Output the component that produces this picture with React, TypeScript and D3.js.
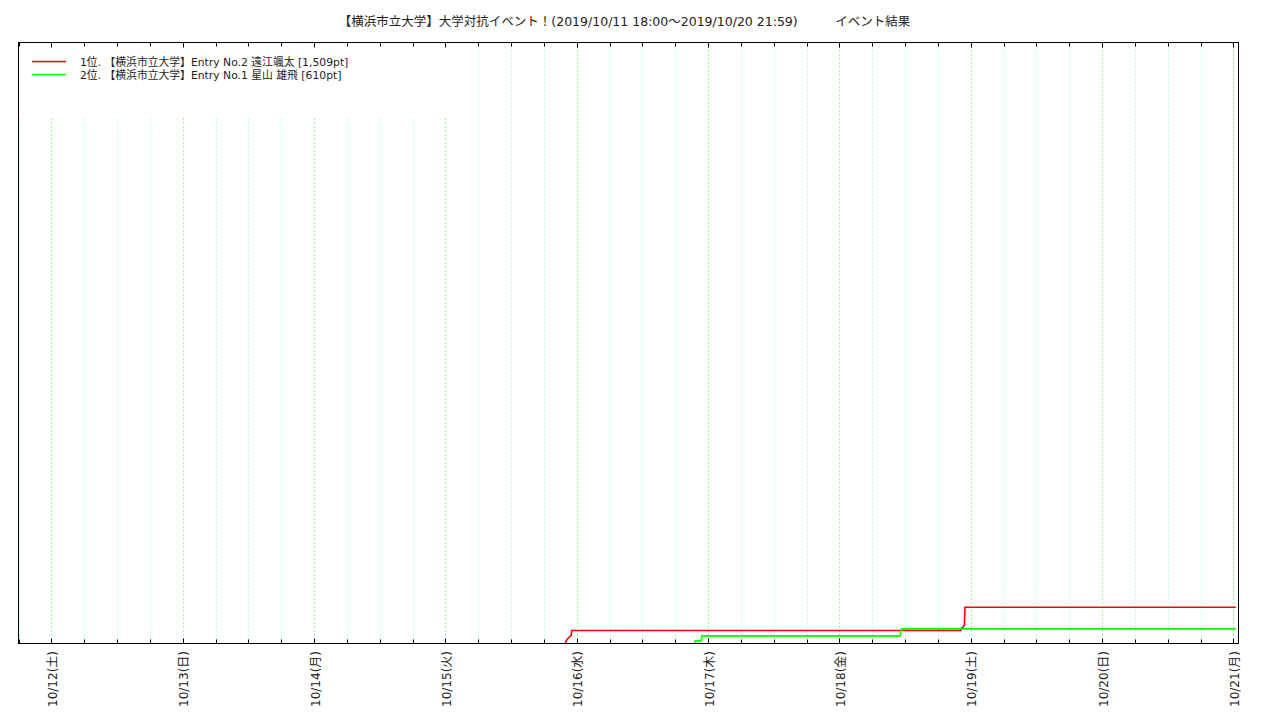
import React from "react";
import * as d3 from "d3";

const TITLE = "【横浜市立大学】大学対抗イベント！(2019/10/11 18:00～2019/10/20 21:59)　　　イベント結果";

const seriesNames = [
  "1位. 【横浜市立大学】Entry No.2 遠江颯太 [1,509pt]",
  "2位. 【横浜市立大学】Entry No.1 星山 雄飛 [610pt]",
];
const seriesColors = ["#ff0000", "#00ff00"];

const redTimes = [
  "2019-10-15 21:52", "2019-10-15 22:15", "2019-10-15 22:37", "2019-10-15 23:00", "2019-10-15 23:04",
  "2019-10-18 22:12", "2019-10-18 22:15", "2019-10-18 22:35", "2019-10-18 22:50", "2019-10-18 22:56",
  "2019-10-21 00:25",
];
const redValues = [0, 180, 260, 345, 540, 540, 624, 680, 760, 1509, 1509];

const greenTimes = [
  "2019-10-16 21:30", "2019-10-16 21:42", "2019-10-16 22:46", "2019-10-16 22:50",
  "2019-10-18 11:06", "2019-10-18 11:14", "2019-10-18 11:24", "2019-10-21 00:25",
];
const greenValues = [0, 108, 108, 316, 316, 500, 610, 610];

const dayTickLabels = [
  "10/12(土)", "10/13(日)", "10/14(月)", "10/15(火)", "10/16(水)",
  "10/17(木)", "10/18(金)", "10/19(土)", "10/20(日)", "10/21(月)",
];

const X_START = "2019-10-11 18:00";
const X_END = "2019-10-21 00:55";
const Y_MAX = 25000;

const parse = d3.timeParse("%Y-%m-%d %H:%M");

export default function App() {
  const W = 1280, H = 720;
  const left = 18.5, right = 1238.5, top = 42.5, bottom = 643.5;
  const x = d3.scaleTime().domain([parse(X_START)!, parse(X_END)!]).range([left, right]);
  const y = d3.scaleLinear().domain([0, Y_MAX]).range([bottom, top]);

  const dayTicks = d3.timeDay.range(d3.timeDay.ceil(parse(X_START)!), parse(X_END)!);
  const sixTicks = d3.timeHour.every(6)!.range(parse(X_START)!, parse(X_END)!).filter((d) => d.getHours() !== 0);

  const line = d3.line<[Date, number]>().x((d) => x(d[0])).y((d) => y(d[1]));
  const series = [
    redTimes.map((t, i) => [parse(t)!, redValues[i]] as [Date, number]),
    greenTimes.map((t, i) => [parse(t)!, greenValues[i]] as [Date, number]),
  ];

  const font = "'DejaVu Sans', 'Noto Sans CJK JP', sans-serif";
  const px = (v: number) => Math.round(v) + 0.5;

  return (
    <svg width={W} height={H} style={{ position: "absolute", left: 0, top: 0, background: "#fff" }} fontFamily={font}>
      <rect x={0} y={0} width={W} height={H} fill="#fff" />
      {/* grid */}
      {sixTicks.map((d, i) => (
        <line key={"g6" + i} x1={px(x(d))} x2={px(x(d))} y1={top} y2={bottom} stroke="#66ffff" strokeWidth={1} strokeDasharray="1,3" />
      ))}
      {dayTicks.map((d, i) => (
        <line key={"gd" + i} x1={px(x(d))} x2={px(x(d))} y1={top} y2={bottom} stroke="#33ee33" strokeWidth={1} strokeDasharray="1,3" />
      ))}
      {/* legend background */}
      <rect x={left + 0.5} y={top + 0.5} width={450} height={75} fill="#fff" />
      {/* series */}
      {series.map((s, i) => (
        <path key={"s" + i} d={line(s)!} fill="none" stroke={seriesColors[i]} strokeWidth={1.6} />
      ))}
      {/* frame */}
      <rect x={left} y={top} width={right - left} height={bottom - top} fill="none" stroke="#000" strokeWidth={1} />
      {/* ticks */}
      {sixTicks.map((d, i) => (
        <g key={"t6" + i}>
          <line x1={px(x(d))} x2={px(x(d))} y1={bottom} y2={bottom - 4} stroke="#000" />
          <line x1={px(x(d))} x2={px(x(d))} y1={top} y2={top + 4} stroke="#000" />
        </g>
      ))}
      {dayTicks.map((d, i) => (
        <g key={"td" + i}>
          <line x1={px(x(d))} x2={px(x(d))} y1={bottom} y2={bottom - 5} stroke="#000" />
          <line x1={px(x(d))} x2={px(x(d))} y1={top} y2={top + 5} stroke="#000" />
          <text
            transform={`translate(${x(d) + 1.5},651) rotate(-90)`}
            dy="0.35em"
            textAnchor="end"
            fontSize={12}
            fill="#222"
          >
            {dayTickLabels[i]}
          </text>
        </g>
      ))}
      {/* legend */}
      {seriesNames.map((n, i) => (
        <g key={"l" + i}>
          <rect x={32} y={60.8 + i * 13} width={34} height={1.5} fill={seriesColors[i]} />
          <text x={80} y={66 + i * 13} fontSize={10.8} fill="#222">{n}</text>
        </g>
      ))}
      {/* title */}
      <text x={(left + right) / 2 - 4} y={26} textAnchor="middle" fontSize={12.5} fill="#222">{TITLE}</text>
    </svg>
  );
}
